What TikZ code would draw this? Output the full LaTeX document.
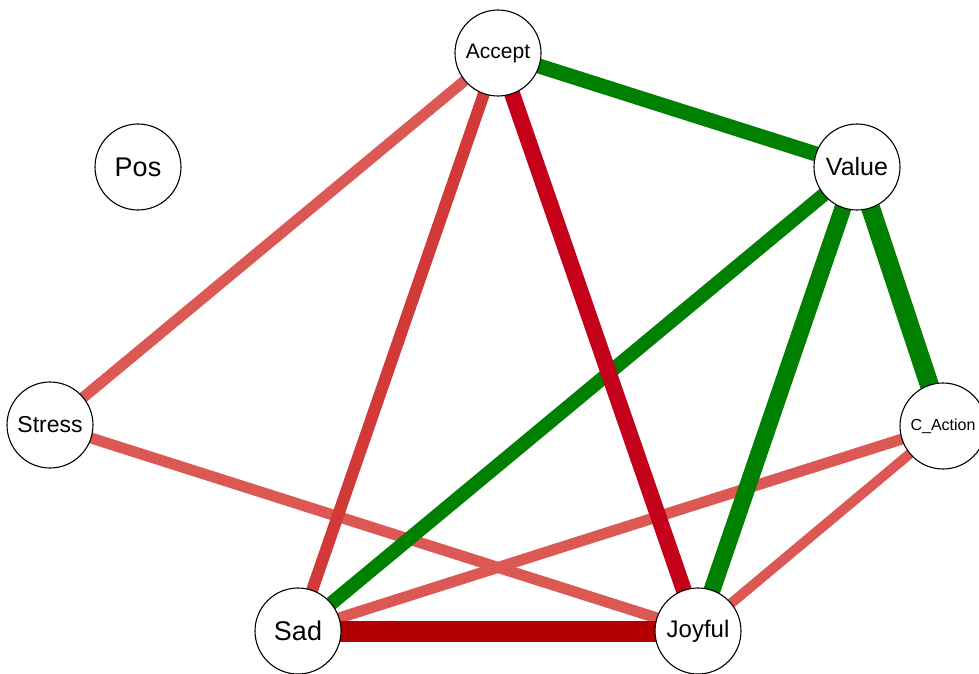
\documentclass[tikz,border=0pt]{standalone}
\usepackage{fontspec}
\setmainfont{Liberation Sans}
\usetikzlibrary{backgrounds}
\definecolor{eGreen}{RGB}{0,128,0}
\definecolor{eLight}{RGB}{219,88,84}
\definecolor{eMid}{RGB}{210,58,58}
\definecolor{eDark}{RGB}{196,0,26}
\definecolor{eDarkest}{RGB}{180,0,0}
\tikzset{
  vert/.style={circle, draw=black, line width=1.1pt, fill=white, minimum size=86pt, inner sep=0pt},
  edge/.style={line cap=butt}
}
\begin{document}
\begin{tikzpicture}[x=1pt,y=-1pt]
\useasboundingbox (0,0) rectangle (979,674);
\node[vert, font=\fontsize{21}{21}\selectfont] (acc) at (498,53) {Accept};
\node[vert, font=\fontsize{27}{27}\selectfont] (pos) at (138,167) {Pos};
\node[vert, font=\fontsize{25}{25}\selectfont] (val) at (857,167) {Value};
\node[vert, font=\fontsize{23}{23}\selectfont] (str) at (50,425) {Stress};
\node[vert, font=\fontsize{16}{16}\selectfont] (cac) at (943,426) {C\_Action};
\node[vert, font=\fontsize{27}{27}\selectfont] (sad) at (298,631) {Sad};
\node[vert, font=\fontsize{24}{24}\selectfont] (joy) at (698,631) {Joyful};
\begin{pgfonlayer}{background}
\draw[edge, eLight, line width=11pt] (acc.center) -- (str.center);
\draw[edge, eLight, line width=11pt] (str.center) -- (joy.center);
\draw[edge, eLight, line width=11pt] (cac.center) -- (sad.center);
\draw[edge, eLight, line width=10pt] (cac.center) -- (joy.center);
\draw[edge, eMid, line width=12pt] (acc.center) -- (sad.center);
\draw[edge, eGreen, line width=14pt] (val.center) -- (sad.center);
\draw[edge, eDark, line width=16pt] (acc.center) -- (joy.center);
\draw[edge, eGreen, line width=17pt] (val.center) -- (joy.center);
\draw[edge, eGreen, line width=15pt] (acc.center) -- (val.center);
\draw[edge, eGreen, line width=19pt] (val.center) -- (cac.center);
\draw[edge, eDarkest, line width=21pt] (sad.center) -- (joy.center);
\end{pgfonlayer}
\end{tikzpicture}
\end{document}
